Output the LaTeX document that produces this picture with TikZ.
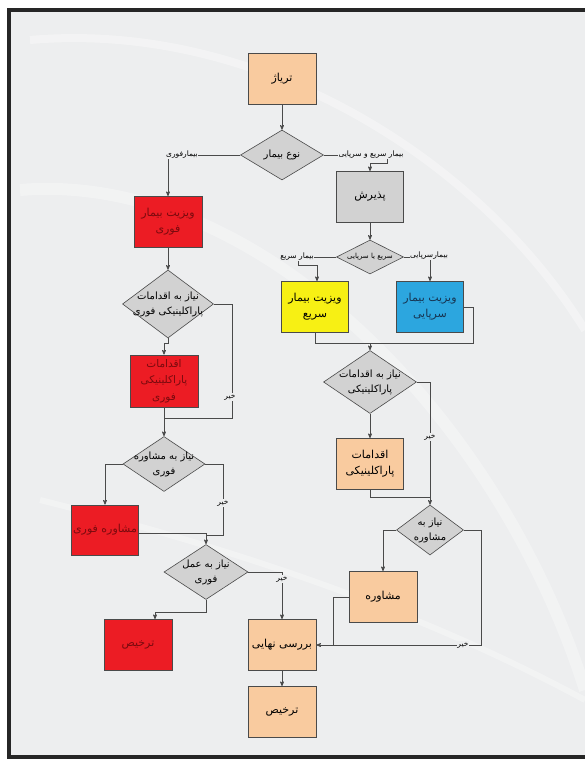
\documentclass[tikz,border=0pt]{standalone}
\usepackage{fontspec}
\newfontfamily\farsi[Script=Arabic]{DejaVu Sans}
\TeXXeTstate=1
\usetikzlibrary{shapes, arrows}

\definecolor{peach}{HTML}{F9CB9F}
\definecolor{boxred}{HTML}{EC1C24}
\definecolor{txtred}{HTML}{7A0A0E}
\definecolor{boxyellow}{HTML}{F7F014}
\definecolor{boxblue}{HTML}{2CA6DF}
\definecolor{txtblue}{HTML}{173451}
\definecolor{condgrey}{HTML}{D2D2D2}
\definecolor{pagegrey}{HTML}{EDEEEF}
\definecolor{linegrey}{HTML}{4A4A4A}
\newcommand{\fatxt}[1]{\beginR #1\endR}

\begin{document}
\begin{tikzpicture}[x=1pt,y=-1pt,>=stealth',
      box node/.style={rectangle,draw=linegrey,line width=0.8pt,minimum width=68pt,
        minimum height=51pt,inner sep=0pt,align=center,font=\farsi\fontsize{11}{16}\selectfont},
      cond node/.style={diamond,draw=linegrey,fill=condgrey,line width=0.6pt,inner sep=-40pt,
        align=center,font=\farsi\fontsize{10}{15}\selectfont},
      tag node/.style={fill=pagegrey,inner sep=0.6pt,font=\farsi\fontsize{7.5}{8}\selectfont},
      link/.style={draw=linegrey,line width=0.7pt}]

    \useasboundingbox (0,0) rectangle (585,759);
    % page
    \fill[pagegrey] (9,10) rectangle (585,757);
    \draw[white,opacity=.35,line width=8pt] (30,40) .. controls (260,20) and (480,160) .. (585,330);
    \draw[white,opacity=.3,line width=12pt] (20,190) .. controls (260,170) and (500,420) .. (585,690);
    \draw[white,opacity=.3,line width=6pt] (40,500) .. controls (200,540) and (400,600) .. (585,700);
    \draw[line width=3.5pt,black!85] (585,10) -- (9,10) -- (9,757) -- (585,757);

    % main column
    \node[box node,fill=peach] (triage) at (282,79) {\fatxt{تریاژ}};
    \node[cond node,minimum width=83pt,minimum height=50pt] (kind) at (282,155) {\fatxt{نوع بیمار}};
    \node[box node,fill=condgrey,minimum width=67pt] (admit) at (370,197) {\fatxt{پذیرش}};
    \node[cond node,minimum width=67pt,minimum height=34pt,font=\farsi\fontsize{7}{8}\selectfont] (speed) at (370,257) {\fatxt{سریع یا سرپایی}};
    \node[box node,fill=boxyellow,minimum width=67pt] (visitS) at (315,307) {\fatxt{ویزیت بیمار}\\\fatxt{سریع}};
    \node[box node,fill=boxblue,text=txtblue,minimum width=67pt] (visitO) at (430,307) {\fatxt{ویزیت بیمار}\\\fatxt{سرپایی}};
    \node[cond node,minimum width=93pt,minimum height=63pt] (needP) at (370,382) {\fatxt{نیاز به اقدامات}\\\fatxt{پاراکلینیکی}};
    \node[box node,fill=peach,minimum width=67pt] (para) at (370,464) {\fatxt{اقدامات}\\\fatxt{پاراکلینیکی}};
    \node[cond node,minimum width=67pt,minimum height=50pt] (needC) at (430,530) {\fatxt{نیاز به}\\\fatxt{مشاوره}};
    \node[box node,fill=peach] (cons) at (383,597) {\fatxt{مشاوره}};
    \node[box node,fill=peach] (review) at (282,645) {\fatxt{بررسی نهایی}};
    \node[box node,fill=peach] (disch) at (282,712) {\fatxt{ترخیص}};

    % emergency column
    \node[box node,fill=boxred,text=txtred] (visitF) at (168,222) {\fatxt{ویزیت بیمار}\\\fatxt{فوری}};
    \node[cond node,minimum width=91pt,minimum height=68pt] (needPF) at (168,304) {\fatxt{نیاز به اقدامات}\\\fatxt{پاراکلینیکی فوری}};
    \node[box node,fill=boxred,text=txtred,minimum height=52pt,font=\farsi\fontsize{10.5}{16.5}\selectfont] (paraF) at (164,381) {\fatxt{اقدامات}\\\fatxt{پاراکلینیکی}\\\fatxt{فوری}};
    \node[cond node,minimum width=82pt,minimum height=55pt] (needCF) at (164,464) {\fatxt{نیاز به مشاوره}\\\fatxt{فوری}};
    \node[box node,fill=boxred,text=txtred,minimum width=67pt,minimum height=50pt] (consF) at (105,530) {\fatxt{مشاوره فوری}};
    \node[cond node,minimum width=84pt,minimum height=55pt] (needO) at (206,572) {\fatxt{نیاز به عمل}\\\fatxt{فوری}};
    \node[box node,fill=boxred,text=txtred] (dischF) at (138,645) {\fatxt{ترخیص}};

    \coordinate (m1) at (370,343);
    \coordinate (m2) at (430,497);
    \coordinate (m3) at (164,418);
    \coordinate (m4) at (206,535);

    % connectors
    \draw[link,->] (triage) -- (kind);
    \draw[link,->] (kind.west) -| (visitF.north);
    \node[tag node] (tagF) at (182,155) {\fatxt{بیمارفوری}};
    \draw[link,->] (kind.east) -| (387,163) -| (admit.north);
    \node[tag node] (tagSO) at (371,155) {\fatxt{بیمار سریع و سرپایی}};
    \draw[link,->] (admit) -- (speed);
    \draw[link,->] (speed.west) -| (298,265) -| ([xshift=2pt]visitS.north);
    \node[tag node] (tagS) at (297,257) {\fatxt{بیمار سریع}};
    \draw[link,->] (speed.east) -| (visitO.north);
    \node[tag node] (tagO) at (429,256) {\fatxt{بیمارسرپایی}};
    \draw[link] (visitS.south) |- (m1);
    \draw[link] (visitO.east) -- ++(9,0) |- (m1);
    \draw[link,->] (m1) -- (needP.north);
    \draw[link,->] (needP) -- (para);
    \draw[link,->] (needP.east) -| (needC.north);
    \node[tag node] (no1) at (430,437) {\fatxt{خیر}};
    \draw[link] (para.south) |- (m2);
    \draw[link,->] (needC.west) -| (cons.north);
    \draw[link,->] (needC.east) -| (481,645) -- (review.east);
    \node[tag node] (no2) at (463,645) {\fatxt{خیر}};
    \draw[link] (cons.west) -| (333,645);
    \draw[link,->] (review) -- (disch);

    \draw[link,->] (visitF) -- (needPF);
    \draw[link,->] (needPF.south) -- ++(0,5) -| (paraF.north);
    \draw[link] (needPF.east) -| (232,418) -- (m3);
    \node[tag node] (no3) at (230,397) {\fatxt{خیر}};
    \draw[link,->] (paraF) -- (needCF);
    \draw[link,->] (needCF.west) -| (consF.north);
    \draw[link] (needCF.east) -| (223,535) -- (m4);
    \node[tag node] (no4) at (223,503) {\fatxt{خیر}};
    \draw[link,->] ([yshift=-3pt]consF.east) -| (needO.north);
    \draw[link,->] (needO.south) -- ++(0,13) -| ([xshift=17pt]dischF.north);
    \draw[link,->] (needO.east) -| (review.north);
    \node[tag node] (no5) at (282,579) {\fatxt{خیر}};
\end{tikzpicture}
\end{document}
